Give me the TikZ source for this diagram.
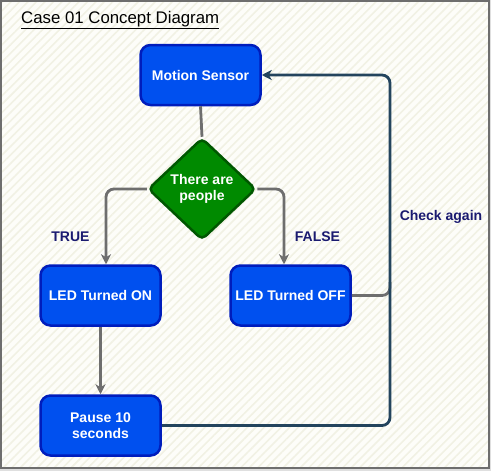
\documentclass[tikz,border=0pt]{standalone}
\usepackage{fontspec}
\setmainfont{Liberation Sans}
\usetikzlibrary{shapes.geometric,arrows.meta,patterns.meta}
\definecolor{boxfill}{HTML}{0050EF}
\definecolor{boxline}{HTML}{001DBC}
\definecolor{dfill}{HTML}{008A00}
\definecolor{dline}{HTML}{005700}
\definecolor{grayline}{HTML}{6E6E6E}
\definecolor{darkline}{HTML}{23445D}
\definecolor{navy}{HTML}{1A1A70}
\definecolor{paper}{HTML}{FDFDF9}
\definecolor{stripe}{HTML}{F1F1E4}
\tikzset{
  procbox/.style={draw=boxline, fill=boxfill, line width=2.5pt, rounded corners=10pt,
    minimum width=120pt, minimum height=60pt, inner sep=0pt, text=white,
    font=\fontsize{14}{16}\selectfont\bfseries, align=center},
  decide/.style={diamond, draw=dline, fill=dfill, line width=2.5pt, rounded corners=5pt,
    minimum width=108pt, minimum height=102pt, inner sep=0pt, text=white,
    font=\fontsize{14}{16}\selectfont\bfseries, align=center},
  gline/.style={draw=grayline, line width=2.8pt, rounded corners=8pt},
  dkline/.style={draw=darkline, line width=2.8pt, rounded corners=8pt},
  tip/.style={-{Stealth[length=10pt,width=10pt,inset=3pt]}},
  lbl/.style={text=navy, font=\fontsize{14}{16}\selectfont\bfseries, inner sep=0pt},
}
\begin{document}
\begin{tikzpicture}[x=1pt,y=-1pt]
\useasboundingbox (0,0) rectangle (491,471);
\fill[gray!25] (0,0) rectangle (491,471);
\fill[paper] (0,0) rectangle (489,468);
\fill[pattern={Lines[angle=45,distance=6pt,line width=1.6pt]}, pattern color=stripe] (0,0) rectangle (489,468);
\draw[grayline, line width=1.5pt] (0.75,0.75) rectangle (489,468);

\node[anchor=west, inner sep=0pt, font=\fontsize{16.8}{19}\selectfont] (title) at (21,20) {\underline{Case 01 Concept Diagram}};

\node[procbox] (ms) at (200.5,75) {Motion Sensor};
\node[decide] (d) at (202,189) {There are\\people};
\node[procbox] (on) at (100.5,295.5) {LED Turned ON};
\node[procbox] (off) at (290.5,295.5) {LED Turned OFF};
\node[procbox] (pause) at (100.5,425.5) {Pause 10\\seconds};

\coordinate (tr) at (390,75);
\coordinate (offj) at (390,282);

\draw[gline] (ms.south) -- (d.north);
\draw[gline, tip] (d.west) -| ([xshift=5.5pt]on.north);
\draw[gline, tip] (d.east) -| ([xshift=-6.5pt]off.north);
\draw[gline, tip] (on.south) -- (pause.north);
\draw[gline] (off.east) -| (offj);
\draw[dkline, tip] (pause.east) -| (tr) -- (ms.east);

\node[lbl] (ltrue) at (70.5,236.5) {TRUE};
\node[lbl] (lfalse) at (317.5,236.5) {FALSE};
\node[lbl] (lcheck) at (441,217) {Check again};
\end{tikzpicture}
\end{document}
